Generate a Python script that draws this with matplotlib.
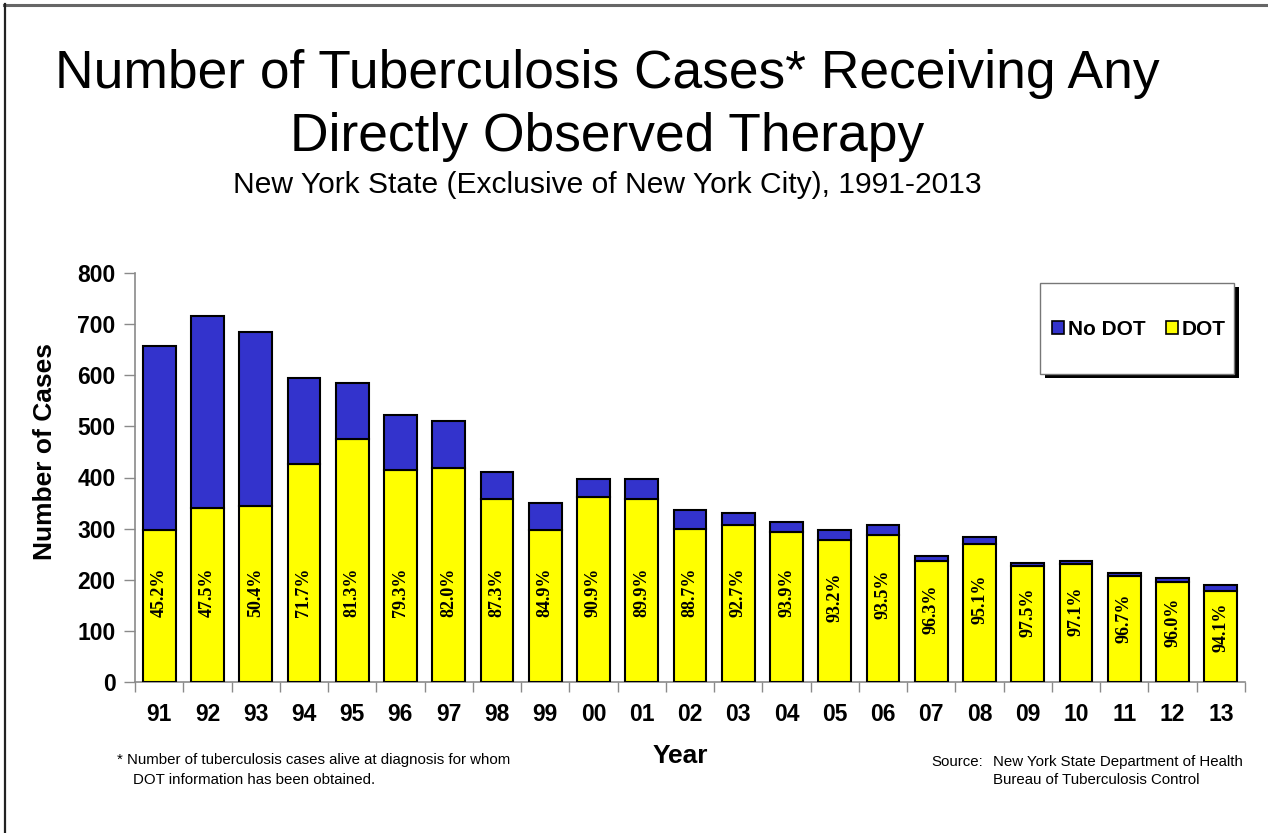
"""
Number of TB cases receiving any DOT, NYS excl. NYC, 1991-2013
Stacked bars: DOT (yellow) + No DOT (blue), percent DOT written in each bar.
"""

import numpy as np
import matplotlib.pyplot as plt
from matplotlib.patches import Patch, Rectangle
from matplotlib.lines import Line2D

# =============================================================================
# DATA
# =============================================================================

YEARS = ['91', '92', '93', '94', '95', '96', '97', '98', '99', '00', '01', '02',
         '03', '04', '05', '06', '07', '08', '09', '10', '11', '12', '13']

DOT = [297, 340, 345, 426, 475, 415, 418, 358, 297, 361, 358, 299,
       307, 294, 277, 287, 237, 270, 227, 230, 207, 195, 178]

NO_DOT = [361, 375, 339, 168, 109, 108, 92, 52, 53, 36, 40, 38,
          24, 19, 20, 20, 9, 14, 6, 7, 7, 8, 11]

PCT_DOT = [45.2, 47.5, 50.4, 71.7, 81.3, 79.3, 82.0, 87.3, 84.9, 90.9, 89.9, 88.7,
           92.7, 93.9, 93.2, 93.5, 96.3, 95.1, 97.5, 97.1, 96.7, 96.0, 94.1]

# =============================================================================
# STYLE
# =============================================================================

COLOR_DOT    = '#FFFF00'
COLOR_NO_DOT = '#3333CC'
AXIS_GRAY    = '#8a8a8a'

W, H = 1268, 833

plt.rcParams['font.family'] = ['Liberation Sans', 'DejaVu Sans']


def fx(px):
    return px / W


def fy(py):
    return 1 - py / H


def main():
    fig = plt.figure(figsize=(W / 100, H / 100), dpi=100)
    fig.patch.set_facecolor('white')

    # slide frame (top + left edges only)
    fig.add_artist(Line2D([fx(4), 1], [fy(5), fy(5)], color='#666666', lw=2.2))
    fig.add_artist(Line2D([fx(5), fx(5)], [fy(4), 0], color='#222222', lw=1.6))

    # titles
    fig.text(fx(607), fy(88), 'Number of Tuberculosis Cases* Receiving Any',
             ha='center', va='baseline', fontsize=38.4)
    fig.text(fx(607), fy(151), 'Directly Observed Therapy',
             ha='center', va='baseline', fontsize=38.4)
    fig.text(fx(607), fy(193), 'New York State (Exclusive of New York City), 1991-2013',
             ha='center', va='baseline', fontsize=21.6)

    ax = fig.add_axes([fx(135), fy(682), fx(1245) - fx(135), fy(273) - fy(682)])

    x = np.arange(len(YEARS))
    bar_w = 0.68
    ax.bar(x, DOT, width=bar_w, color=COLOR_DOT, edgecolor='black',
           linewidth=1.5, zorder=3)
    ax.bar(x, NO_DOT, width=bar_w, bottom=DOT, color=COLOR_NO_DOT,
           edgecolor='black', linewidth=1.5, zorder=3)

    # percent DOT labels inside the yellow part
    for xi, d, p in zip(x, DOT, PCT_DOT):
        ax.text(xi, min(176, 0.6 * d), f'{p:.1f}%', rotation=90,
                ha='center', va='center', fontsize=13, fontweight='bold',
                family=['Liberation Serif', 'DejaVu Serif'], zorder=4)

    ax.set_xlim(-0.5, len(YEARS) - 0.5)
    ax.set_ylim(0, 800)
    ax.set_yticks(np.arange(0, 801, 100))
    ax.set_xticks(x)
    ax.set_xticklabels(YEARS)
    ax.set_xticks(np.arange(-0.5, len(YEARS), 1), minor=True)

    for lbl in ax.get_xticklabels() + ax.get_yticklabels():
        lbl.set_fontweight('bold')
        lbl.set_fontsize(16.5)

    ax.tick_params(axis='x', which='major', length=0, pad=15)
    ax.tick_params(axis='x', which='minor', length=7, color=AXIS_GRAY, width=1)
    ax.tick_params(axis='y', length=8, color=AXIS_GRAY, width=1, pad=6)

    for side in ['top', 'right']:
        ax.spines[side].set_visible(False)
    for side in ['left', 'bottom']:
        ax.spines[side].set_color(AXIS_GRAY)
        ax.spines[side].set_linewidth(1.2)

    # axis labels
    fig.text(fx(45), fy(451), 'Number of Cases', rotation=90, ha='center',
             va='center', fontsize=19, fontweight='bold')
    fig.text(fx(680), fy(756), 'Year', ha='center', va='center',
             fontsize=19, fontweight='bold')

    # legend box with hard black shadow
    bx0, by0, bx1, by1 = 1040, 283, 1234, 374
    fig.add_artist(Rectangle((fx(bx0 + 5), fy(by1 + 4)), fx(bx1) - fx(bx0),
                             fy(by0) - fy(by1), transform=fig.transFigure,
                             facecolor='black', edgecolor='none', zorder=5))
    fig.add_artist(Rectangle((fx(bx0), fy(by1)), fx(bx1) - fx(bx0),
                             fy(by0) - fy(by1), transform=fig.transFigure,
                             facecolor='white', edgecolor='#777777', lw=1,
                             zorder=6))
    handles = [Patch(facecolor=COLOR_NO_DOT, edgecolor='black', lw=1.2, label='No DOT'),
               Patch(facecolor=COLOR_DOT, edgecolor='black', lw=1.2, label='DOT')]
    leg = fig.legend(handles=handles, loc='center',
                     bbox_to_anchor=(fx((bx0 + bx1) / 2 + 2), fy((by0 + by1) / 2 + 1)),
                     ncol=2, frameon=False, prop={'weight': 'bold', 'size': 15},
                     handlelength=0.55, handleheight=0.6, handletextpad=0.2,
                     columnspacing=1.0)
    leg.set_zorder(7)

    # footnote and source
    fig.text(fx(117), fy(764), '* Number of tuberculosis cases alive at diagnosis for whom',
             ha='left', va='baseline', fontsize=10.8)
    fig.text(fx(133), fy(784), 'DOT information has been obtained.',
             ha='left', va='baseline', fontsize=10.8)
    fig.text(fx(931), fy(766), 'Source:', ha='left', va='baseline', fontsize=10.8)
    fig.text(fx(993), fy(766), 'New York State Department of Health',
             ha='left', va='baseline', fontsize=10.8)
    fig.text(fx(993), fy(784), 'Bureau of Tuberculosis Control',
             ha='left', va='baseline', fontsize=10.8)

    plt.savefig('out.png', dpi=100)
    plt.close()


if __name__ == '__main__':
    main()
